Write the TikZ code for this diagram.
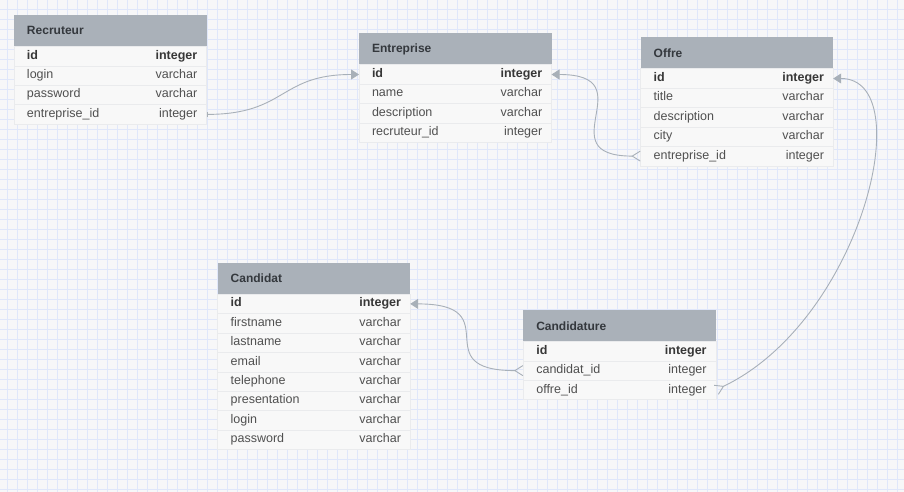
\documentclass[tikz,border=0pt]{standalone}
\usepackage{fontspec}
\setmainfont{Liberation Sans}
\usepackage{tikz}
\usetikzlibrary{arrows.meta, positioning}
\definecolor{bgcolor}{RGB}{247, 247, 248}
\definecolor{gridblue}{RGB}{224, 231, 250}
\definecolor{headgray}{RGB}{170, 177, 185}
\definecolor{headtext}{RGB}{52, 56, 61}
\definecolor{rowbg}{RGB}{248, 248, 248}
\definecolor{rowline}{RGB}{234, 235, 237}
\definecolor{fieldtext}{RGB}{80, 80, 80}
\definecolor{keytext}{RGB}{55, 55, 55}
\definecolor{linkgray}{RGB}{168, 176, 184}

\tikzset{
    tabhead/.style={rectangle, fill=headgray, text=headtext, font=\fontsize{12}{14}\selectfont\bfseries,
        anchor=north west, inner xsep=13pt, inner ysep=0pt, text width=166.5pt, minimum height=31.5pt,
        align=left, outer sep=0pt},
    tabrow/.style={rectangle, fill=rowbg, draw=rowline, line width=0.6pt, text=fieldtext,
        font=\fontsize{12.5}{15}\selectfont, inner xsep=13pt, inner ysep=3.7pt, text width=166.5pt,
        text height=9pt, text depth=3pt, align=left, outer sep=0pt},
    tabkey/.style={tabrow, text=keytext, font=\fontsize{12.5}{15}\selectfont\bfseries},
    tabtype/.style={anchor=east, xshift=-9pt, inner sep=0pt, text height=9pt, text depth=3pt,
        text=fieldtext, font=\fontsize{12.5}{15}\selectfont},
    keytype/.style={tabtype, text=keytext, font=\fontsize{12.5}{15}\selectfont\bfseries},
    gridline/.style={draw=gridblue, line width=0.5pt},
    link/.style={draw=linkgray, line width=0.9pt},
}

\begin{document}
\begin{tikzpicture}[x=1pt, y=-1pt]

    % Background and grid
    \fill[bgcolor] (0,0) rectangle (904,492);
    \useasboundingbox (0,0) rectangle (904,492);
    \foreach \gx in {7.5,17.5,...,897.5} \draw[gridline] (\gx,0) -- (\gx,492);
    \foreach \gy in {9,19,...,489} \draw[gridline] (0,\gy) -- (904,\gy);

    % Recruteur
    \node[tabhead] at (14,15) (recr) {Recruteur};
    \node[tabkey, below=0pt of recr] (recr-1) {id};
    \node[keytype] at (recr-1.east) (recr-1-t) {integer};
    \foreach \f/\t [count=\i from 2] in {login/varchar, password/varchar, entreprise\_id/integer} {
        \pgfmathtruncatemacro\p{\i-1}
        \node[tabrow, below=0pt of recr-\p] (recr-\i) {\f};
        \node[tabtype] at (recr-\i.east) (recr-\i-t) {\t};
    }

    % Entreprise
    \node[tabhead] at (359,33.3) (ent) {Entreprise};
    \node[tabkey, below=0pt of ent] (ent-1) {id};
    \node[keytype] at (ent-1.east) (ent-1-t) {integer};
    \foreach \f/\t [count=\i from 2] in {name/varchar, description/varchar, recruteur\_id/integer} {
        \pgfmathtruncatemacro\p{\i-1}
        \node[tabrow, below=0pt of ent-\p] (ent-\i) {\f};
        \node[tabtype] at (ent-\i.east) (ent-\i-t) {\t};
    }

    % Offre
    \node[tabhead] at (640.7,37.3) (off) {Offre};
    \node[tabkey, below=0pt of off] (off-1) {id};
    \node[keytype] at (off-1.east) (off-1-t) {integer};
    \foreach \f/\t [count=\i from 2] in {title/varchar, description/varchar, city/varchar, entreprise\_id/integer} {
        \pgfmathtruncatemacro\p{\i-1}
        \node[tabrow, below=0pt of off-\p] (off-\i) {\f};
        \node[tabtype] at (off-\i.east) (off-\i-t) {\t};
    }

    % Candidat
    \node[tabhead] at (217.7,262.7) (cdt) {Candidat};
    \node[tabkey, below=0pt of cdt] (cdt-1) {id};
    \node[keytype] at (cdt-1.east) (cdt-1-t) {integer};
    \foreach \f/\t [count=\i from 2] in {firstname/varchar, lastname/varchar, email/varchar, telephone/varchar,
            presentation/varchar, login/varchar, password/varchar} {
        \pgfmathtruncatemacro\p{\i-1}
        \node[tabrow, below=0pt of cdt-\p] (cdt-\i) {\f};
        \node[tabtype] at (cdt-\i.east) (cdt-\i-t) {\t};
    }

    % Candidature
    \node[tabhead] at (523.3,310) (cand) {Candidature};
    \node[tabkey, below=0pt of cand] (cand-1) {id};
    \node[keytype] at (cand-1.east) (cand-1-t) {integer};
    \foreach \f/\t [count=\i from 2] in {candidat\_id/integer, offre\_id/integer} {
        \pgfmathtruncatemacro\p{\i-1}
        \node[tabrow, below=0pt of cand-\p] (cand-\i) {\f};
        \node[tabtype] at (cand-\i.east) (cand-\i-t) {\t};
    }

    % Relations
    \draw[link, {Bar[width=5pt]}-{Triangle[length=8pt, width=10pt]}]
        (recr-4.east) .. controls +(80,0) and +(-80,0) .. (ent-1.west);
    \draw[link, {Straight Barb[reversed, length=8pt, width=10pt]}-{Triangle[length=8pt, width=10pt]}]
        (off-5.west) .. controls +(-95,0) and +(95,0) .. (ent-1.east);
    \draw[link, {Straight Barb[reversed, length=8pt, width=10pt]}-{Triangle[length=8pt, width=10pt]}]
        (cand-2.west) .. controls +(-100,0) and +(100,0) .. (cdt-1.east);
    \draw[link, {Straight Barb[reversed, length=8pt, width=10pt]}-{Triangle[length=8pt, width=10pt]}]
        (cand-3.east) .. controls +(146,-70) and +(87,0) .. (off-1.east);

\end{tikzpicture}
\end{document}
